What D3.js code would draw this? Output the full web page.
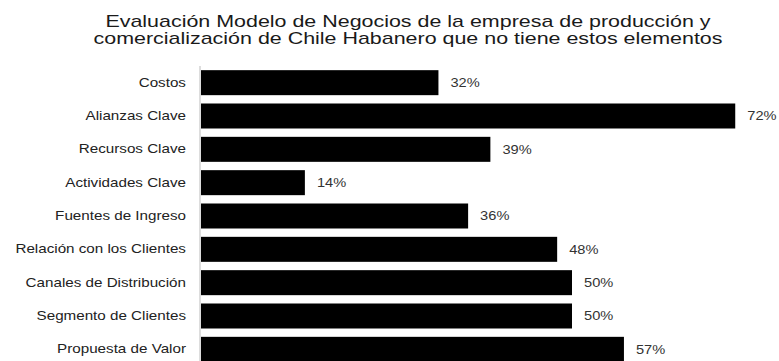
<!DOCTYPE html>
<html>
<head>
<meta charset="utf-8">
<script src="https://cdn.jsdelivr.net/npm/d3@7"></script>
<style>
  body { margin: 0; background: #fff; }
  svg { display: block; font-family: "Liberation Sans", Arial, sans-serif; }
</style>
</head>
<body>
<div id="chart"></div>
<script>
// Data
const categories = ["Costos", "Alianzas Clave", "Recursos Clave", "Actividades Clave",
    "Fuentes de Ingreso", "Relación con los Clientes", "Canales de Distribución",
    "Segmento de Clientes", "Propuesta de Valor"];
const values = [32, 72, 39, 14, 36, 48, 50, 50, 57];
const titleLines = ["Evaluación Modelo de Negocios de la empresa de producción y",
    "comercialización de Chile Habanero que no tiene estos elementos"];

const width = 779, height = 361;

const svg = d3.select("#chart")
    .append("svg")
    .attr("width", width)
    .attr("height", height);

// Scales
const x = d3.scaleLinear()
    .domain([0, 100])
    .range([201, 943]);

const y = d3.scaleBand()
    .domain(categories)
    .range([66, 366])
    .paddingInner(0.25)
    .paddingOuter(0.125);

// Title (the original text looks stretched sideways)
svg.append("g")
    .attr("transform", "translate(408,0) scale(1.34,1)")
    .append("text")
    .attr("text-anchor", "middle")
    .style("font-size", "16px")
    .style("fill", "#1a1a1a")
    .selectAll("tspan")
    .data(titleLines)
    .enter()
    .append("tspan")
    .attr("x", 0)
    .attr("y", (d, i) => 27 + i * 17)
    .text(d => d);

// Bars
svg.selectAll(".bar")
    .data(values)
    .enter()
    .append("rect")
    .attr("class", "bar")
    .attr("x", x(0))
    .attr("y", (d, i) => y(categories[i]))
    .attr("width", d => x(d) - x(0))
    .attr("height", y.bandwidth())
    .style("fill", "#000");

// Y axis
const yAxis = svg.append("g")
    .attr("transform", `translate(${x(0) - 1},0)`)
    .call(d3.axisLeft(y).tickSize(0).tickPadding(12));

yAxis.select(".domain")
    .attr("d", `M0,66V366`)
    .style("stroke", "#bbb");

yAxis.selectAll(".tick text")
    .attr("transform", "scale(1.17,1)")
    .style("font-size", "13px")
    .style("font-family", "Liberation Sans, Arial, sans-serif")
    .style("fill", "#222");

// Value labels, also slightly stretched
svg.selectAll(".label")
    .data(values)
    .enter()
    .append("text")
    .attr("class", "label")
    .attr("transform", (d, i) =>
        `translate(${x(d) + 12},${y(categories[i]) + y.bandwidth() / 2}) scale(1.22,1)`)
    .attr("dy", "0.35em")
    .style("font-size", "12px")
    .style("fill", "#333")
    .text(d => d + "%");
</script>
</body>
</html>
